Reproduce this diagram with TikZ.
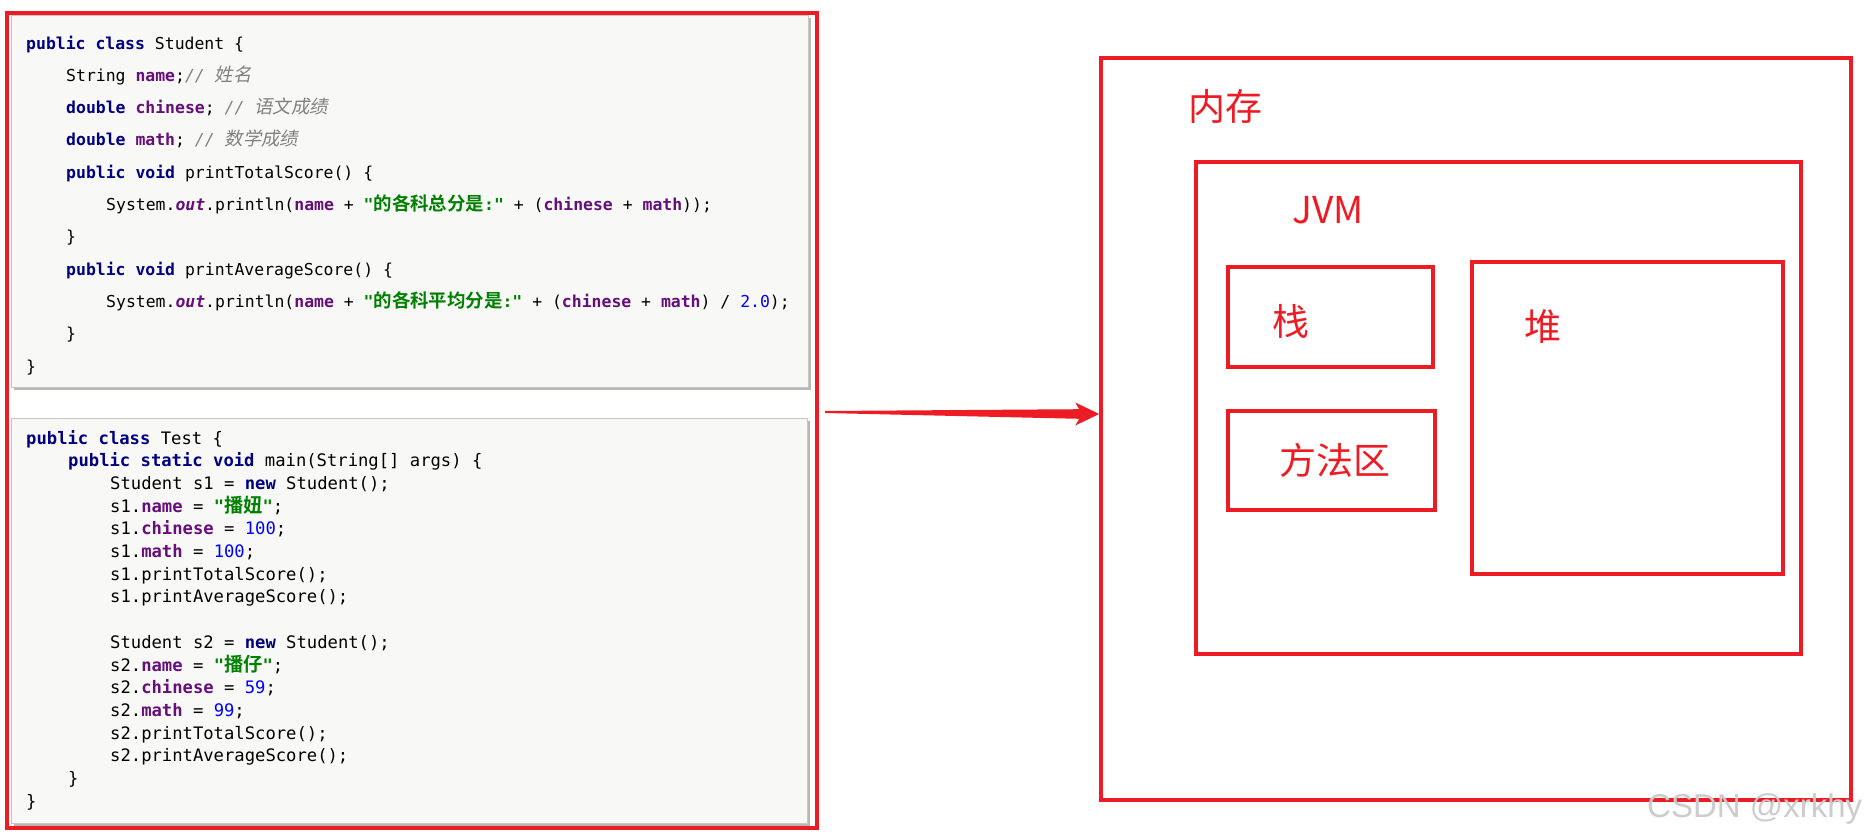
\documentclass[tikz,border=0pt]{standalone}
\usepackage{fontspec}
\usetikzlibrary{calc,shadows}
\newfontfamily\codefont[BoldFont={DejaVu Sans Mono Bold},ItalicFont={DejaVu Sans Mono Oblique},BoldItalicFont={DejaVu Sans Mono Bold Oblique}]{DejaVu Sans Mono}
\newfontfamily\zhfont[Scale=1.12,BoldFont={Noto Sans CJK SC Bold}]{Noto Sans CJK SC}
\newfontfamily\zhitfont[Scale=1.12,FakeSlant=0.2]{Noto Sans CJK SC}
\newfontfamily\labfont{Noto Sans CJK SC}
\newfontfamily\wmfont{Liberation Sans}
\definecolor{redc}{HTML}{ED1C24}
\definecolor{codebg}{HTML}{F8F9F7}
\definecolor{kwc}{HTML}{000080}
\definecolor{fdc}{HTML}{660E7A}
\definecolor{stc}{HTML}{008000}
\definecolor{nmc}{HTML}{0000FF}
\definecolor{cmc}{HTML}{808080}
\newcommand\kw[1]{\textcolor{kwc}{\bfseries #1}}
\newcommand\fd[1]{\textcolor{fdc}{\bfseries #1}}
\newcommand\fdi[1]{\textcolor{fdc}{\bfseries\itshape #1}}
\newcommand\strg[1]{\textcolor{stc}{\bfseries #1}}
\newcommand\nmb[1]{\textcolor{nmc}{#1}}
\newcommand\cmt[1]{\textcolor{cmc}{\itshape #1}}
\newcommand\zhb[1]{{\zhfont\bfseries #1}}
\newcommand\zhi[1]{{\zhitfont #1}}
\begin{document}
\begin{tikzpicture}[x=1pt,y=-1pt,
  codebox/.style={draw=gray!45,line width=1pt,fill=codebg,inner sep=0pt,
    drop shadow={shadow xshift=3pt,shadow yshift=-3pt,fill=gray!70,opacity=0.8}},
  frame/.style={draw=redc,line width=4pt,inner sep=0pt},
  rbox/.style={draw=redc,line width=3.5pt,inner sep=0pt},
  codeA/.style={anchor=base west,inner sep=0pt,font=\codefont\fontsize{16.45}{20}\selectfont},
  codeB/.style={anchor=base west,inner sep=0pt,font=\codefont\fontsize{17.2}{20}\selectfont},
  lab/.style={inner sep=0pt,text=redc,font=\labfont\fontsize{37}{40}\selectfont}]
\useasboundingbox (0,0) rectangle (1868,838);
\fill[white] (0,0) rectangle (1868,838);
% code boxes
\node[codebox,minimum width=797pt,minimum height=372pt] (box1) at (409.5,201) {};
\node[codebox,minimum width=796pt,minimum height=405pt] (box2) at (409,620.5) {};
% outer red frame
\node[frame,minimum width=810pt,minimum height=815pt] (frame) at (412,420) {};
% class Student
\node[codeA] (a1) at (26,49) {\kw{public class} Student \{};
\node[codeA] (a2) at (66,81.3) {String \fd{name};\cmt{// \zhi{姓名}}};
\node[codeA] (a3) at (66,113.6) {\kw{double} \fd{chinese}; \cmt{// \zhi{语文成绩}}};
\node[codeA] (a4) at (66,145.9) {\kw{double} \fd{math}; \cmt{// \zhi{数学成绩}}};
\node[codeA] (a5) at (66,178.2) {\kw{public void} printTotalScore() \{};
\node[codeA] (a6) at (106,210.5) {System.\fdi{out}.println(\fd{name} + \strg{"\zhb{的各科总分是}:"} + (\fd{chinese} + \fd{math}));};
\node[codeA] (a7) at (66,242.8) {\}};
\node[codeA] (a8) at (66,275.1) {\kw{public void} printAverageScore() \{};
\node[codeA] (a9) at (106,307.4) {System.\fdi{out}.println(\fd{name} + \strg{"\zhb{的各科平均分是}:"} + (\fd{chinese} + \fd{math}) / \nmb{2.0});};
\node[codeA] (a10) at (66,339.7) {\}};
\node[codeA] (a11) at (26,372) {\}};
% class Test
\node[codeB] (b1) at (26,444) {\kw{public class} Test \{};
\node[codeB] (b2) at (68,466.7) {\kw{public static void} main(String[] args) \{};
\node[codeB] (b3) at (110,489.4) {Student s1 = \kw{new} Student();};
\node[codeB] (b4) at (110,512.1) {s1.\fd{name} = \strg{"\zhb{播妞}"};};
\node[codeB] (b5) at (110,534.8) {s1.\fd{chinese} = \nmb{100};};
\node[codeB] (b6) at (110,557.5) {s1.\fd{math} = \nmb{100};};
\node[codeB] (b7) at (110,580.2) {s1.printTotalScore();};
\node[codeB] (b8) at (110,602.9) {s1.printAverageScore();};
\node[codeB] (b10) at (110,648.3) {Student s2 = \kw{new} Student();};
\node[codeB] (b11) at (110,671) {s2.\fd{name} = \strg{"\zhb{播仔}"};};
\node[codeB] (b12) at (110,693.7) {s2.\fd{chinese} = \nmb{59};};
\node[codeB] (b13) at (110,716.4) {s2.\fd{math} = \nmb{99};};
\node[codeB] (b14) at (110,739.1) {s2.printTotalScore();};
\node[codeB] (b15) at (110,761.8) {s2.printAverageScore();};
\node[codeB] (b16) at (68,784.5) {\}};
\node[codeB] (b17) at (26,807.2) {\}};
% memory diagram
\node[rbox,minimum width=750pt,minimum height=742pt] (mem) at (1476,429) {};
\node[rbox,minimum width=605pt,minimum height=492pt] (jvm) at (1498.5,408) {};
\node[rbox,minimum width=205pt,minimum height=100pt] (stack) at (1330.5,317) {};
\node[rbox,minimum width=207pt,minimum height=99pt] (method) at (1331.5,460.5) {};
\node[rbox,minimum width=311pt,minimum height=312pt] (heap) at (1627.5,418) {};
\node[lab] (lmem) at (1225,106) {内存};
\node[lab] (ljvm) at (1328,210.5) {JVM};
\node[lab] (lstack) at (1291,321) {栈};
\node[lab] (lmethod) at (1335,460) {方法区};
\node[lab] (lheap) at (1543,327) {堆};
% arrow
\coordinate (a) at ($(frame.east)+(6,-8)$);
\coordinate (b) at ($(mem.west)+(0,-15)$);
\fill[redc] ($(a)+(0,-1)$) -- ($(b)+(-20,-4.8)$) -- ($(b)+(-24,-11.5)$) -- (b)
  -- ($(b)+(-24,11.5)$) -- ($(b)+(-20,4.8)$) -- ($(a)+(0,1)$) -- cycle;
% watermark
\node[anchor=base west,inner sep=0pt,text=gray!40,font=\wmfont\fontsize{33}{33}\selectfont] (wm) at (1647,817) {CSDN @xrkhy};
\end{tikzpicture}
\end{document}
